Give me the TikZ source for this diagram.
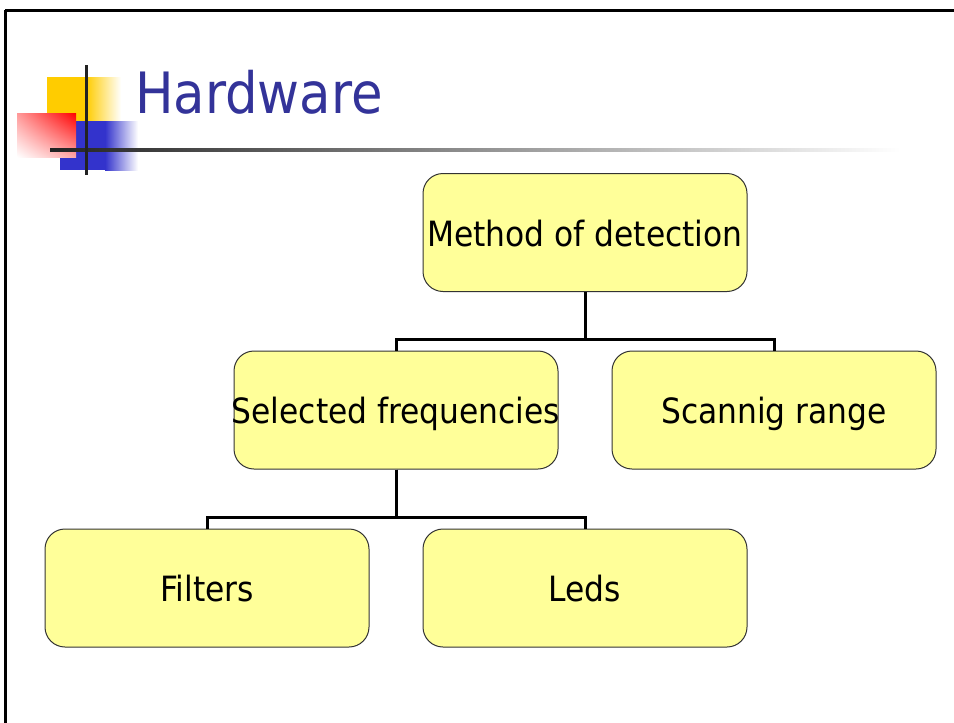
\documentclass[tikz,border=0pt]{standalone}
\usepackage{fontspec}
\setmainfont{DejaVu Sans Condensed}
\usetikzlibrary{calc,shadings}
\definecolor{boxfill}{HTML}{FFFF99}
\definecolor{boxline}{HTML}{333333}
\definecolor{titleblue}{HTML}{333399}
\definecolor{logoyellow}{HTML}{FFCC00}
\definecolor{logoblue}{HTML}{3333CC}
\definecolor{logored}{HTML}{FF0000}
\definecolor{darkline}{HTML}{222222}
\tikzset{
  orgbox/.style={draw=boxline, line width=1pt, fill=boxfill, rounded corners=20pt,
    minimum width=324pt, minimum height=118pt, inner sep=0pt,
    text height=27pt, text depth=0pt,
    font=\fontsize{34.8}{40}\selectfont, text=black},
  conn/.style={draw=black, line width=3pt},
  framel/.style={draw=black, line width=3pt}
}
\begin{document}
\begin{tikzpicture}[x=1pt,y=1pt]
\useasboundingbox (0,0) rectangle (954,-723);
\fill[white] (0,0) rectangle (954,-723);
% frame
\draw[framel] (5,-10) -- (954,-10);
\draw[framel] (5,-10) -- (5,-723);
% logo
\fill[logoyellow] (47,-77) rectangle (86,-121);
\shade[left color=logoyellow, right color=white] (86,-77) rectangle (121,-121);
\fill[logoblue] (60,-121) rectangle (105,-170);
\shade[left color=logoblue, right color=white] (105,-121) rectangle (138,-170);
\shade[upper right=logored, upper left=logored!40, lower right=logored!35, lower left=white]
  (17,-113) rectangle (76,-157);
\shade[left color=darkline, right color=white] (50,-148.5) rectangle (900,-151.5);
\fill[darkline] (84.5,-65) rectangle (87.5,-175);
% title
\node[anchor=base west, inner sep=0pt, text=titleblue, font=\fontsize{57}{60}\selectfont] (title) at (135,-113) {Hardware};
% boxes
\node[orgbox] (m) at (585,-232.5) {Method of detection};
\node[orgbox] (s) at (396,-410) {\makebox[324pt]{Selected frequencies}};
\node[orgbox] (r) at (774,-410) {Scannig range};
\node[orgbox] (f) at (207,-588) {Filters};
\node[orgbox] (l) at (585,-588) {Leds};
% connectors
\draw[conn] (m.south) -- ++(0,-47) -| (s.north);
\draw[conn] (m.south) -- ++(0,-47) -| (r.north);
\draw[conn] (s.south) -- ++(0,-48) -| (f.north);
\draw[conn] (s.south) -- ++(0,-48) -| (l.north);
\end{tikzpicture}
\end{document}
